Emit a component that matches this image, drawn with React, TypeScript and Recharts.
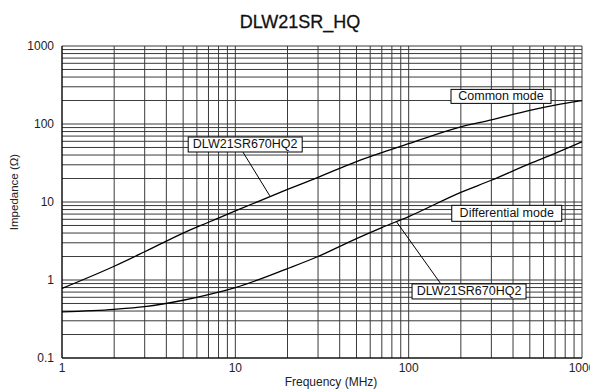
import React from 'react';
import {
  LineChart,
  Line,
  XAxis,
  YAxis,
  CartesianGrid,
  ReferenceLine,
  ReferenceDot,
} from 'recharts';

// frequency points (MHz)
const freq = [1, 2, 3, 5, 7, 10, 20, 30, 50, 70, 100, 200, 300, 500, 700, 1000];
const commonMode = [0.78, 1.5, 2.3, 4.0, 5.5, 7.7, 14.5, 20.7, 33, 43, 56, 92, 113, 150, 175, 200];
const diffMode = [0.39, 0.42, 0.455, 0.55, 0.65, 0.8, 1.4, 2.0, 3.4, 4.7, 6.5, 13.3, 19, 31, 42, 59];

const xTicks = [
  1, 2, 3, 4, 5, 6, 7, 8, 9,
  10, 20, 30, 40, 50, 60, 70, 80, 90,
  100, 200, 300, 400, 500, 600, 700, 800, 900,
  1000,
];
const yTicks = [
  0.1, 0.2, 0.3, 0.4, 0.5, 0.6, 0.7, 0.8, 0.9,
  1, 2, 3, 4, 5, 6, 7, 8, 9,
  10, 20, 30, 40, 50, 60, 70, 80, 90,
  100, 200, 300, 400, 500, 600, 700, 800, 900,
  1000,
];
const xLabels = [1, 10, 100, 1000];
const yLabels = [0.1, 1, 10, 100, 1000];

const data = freq.map((f, i) => ({ f, common: commonMode[i], diff: diffMode[i] }));

const FONT = '"Liberation Sans", Arial, sans-serif';

function LabelBox({ cx, cy, text, w, h }: any) {
  return (
    <g>
      <rect x={cx - w / 2} y={cy - h / 2} width={w} height={h} fill="#fff" stroke="#000" strokeWidth={1} />
      <text
        x={cx}
        y={cy}
        textAnchor="middle"
        dominantBaseline="central"
        fontFamily={FONT}
        fontSize={12.5}
        fill="#111"
      >
        {text}
      </text>
    </g>
  );
}

export default function App() {
  const tickStyle = { fontFamily: FONT, fontSize: 12, fill: '#222' };
  return (
    <div style={{ position: 'absolute', left: 0, top: 0, width: 590, height: 392, background: '#fff' }}>
      <LineChart width={590} height={392} data={data} margin={{ top: 46, right: 8, bottom: 0, left: 0 }}>
        <CartesianGrid stroke="#3a3a3a" strokeWidth={1} horizontal vertical />
        <XAxis
          dataKey="f"
          type="number"
          scale="log"
          domain={[1, 1000]}
          allowDataOverflow
          ticks={xTicks}
          interval={0}
          tickFormatter={(v: number) => (xLabels.includes(v) ? String(v) : '')}
          tickLine={false}
          tickSize={0}
          tickMargin={5}
          height={34}
          axisLine={{ stroke: '#000' }}
          tick={tickStyle}
        />
        <YAxis
          type="number"
          scale="log"
          domain={[0.1, 1000]}
          allowDataOverflow
          ticks={yTicks}
          interval={0}
          tickFormatter={(v: number) => (yLabels.includes(v) ? String(v) : '')}
          tickLine={false}
          tickSize={0}
          tickMargin={8}
          width={62}
          axisLine={{ stroke: '#000' }}
          tick={tickStyle}
        />
        <Line type="monotone" dataKey="common" stroke="#000" strokeWidth={1.3} dot={false} isAnimationActive={false} />
        <Line type="monotone" dataKey="diff" stroke="#000" strokeWidth={1.3} dot={false} isAnimationActive={false} />
        <ReferenceLine segment={[{ x: 11.06, y: 43.7 }, { x: 15.8, y: 12 }]} stroke="#000" strokeWidth={1} />
        <ReferenceLine segment={[{ x: 152, y: 0.916 }, { x: 85, y: 5.6 }]} stroke="#000" strokeWidth={1} />
        <ReferenceDot x={341} y={226} shape={(p: any) => <LabelBox {...p} text="Common mode" w={100} h={14} />} />
        <ReferenceDot x={368} y={7.16} shape={(p: any) => <LabelBox {...p} text="Differential mode" w={110} h={16} />} />
        <ReferenceDot x={11.4} y={54.6} shape={(p: any) => <LabelBox {...p} text="DLW21SR670HQ2" w={114} h={15} />} />
        <ReferenceDot x={223} y={0.713} shape={(p: any) => <LabelBox {...p} text="DLW21SR670HQ2" w={114} h={15} />} />
      </LineChart>
      <svg width={590} height={392} style={{ position: 'absolute', left: 0, top: 0, pointerEvents: 'none' }}>
        <text x={300} y={28} textAnchor="middle" fontFamily={FONT} fontSize={18} fill="#111" stroke="#111" strokeWidth={0.3}>
          DLW21SR_HQ
        </text>
        <text x={331} y={382} textAnchor="middle" dominantBaseline="central" fontFamily={FONT} fontSize={12} fill="#222">
          Frequency (MHz)
        </text>
        <text
          x={14}
          y={192}
          textAnchor="middle"
          dominantBaseline="central"
          fontFamily={FONT}
          fontSize={11.5}
          fill="#222"
          transform="rotate(-90 14 192)"
        >
          Impedance (Ω)
        </text>
      </svg>
    </div>
  );
}
